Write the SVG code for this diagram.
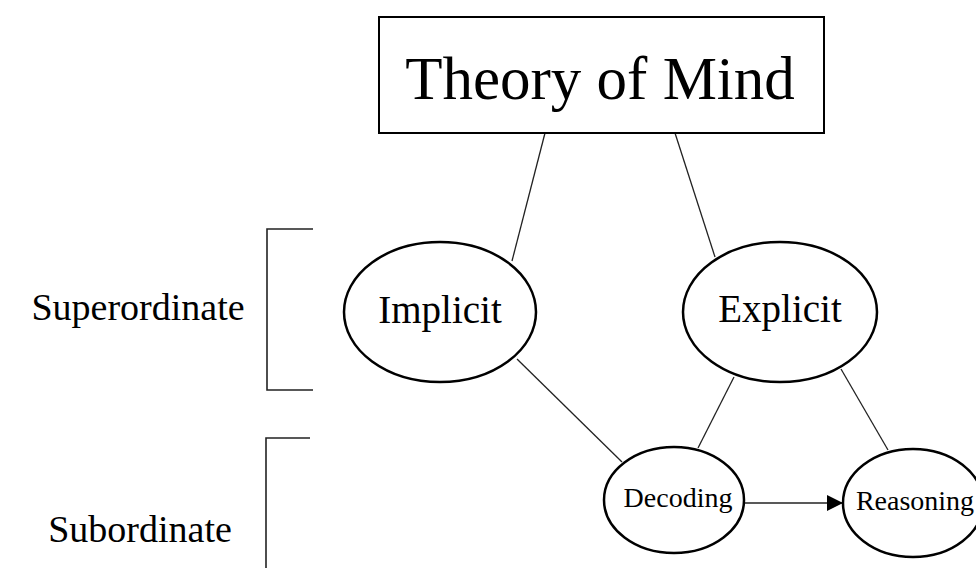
<svg xmlns="http://www.w3.org/2000/svg" width="976" height="568" viewBox="0 0 976 568">
  <style>
    text { font-family: "Liberation Serif", "Times New Roman", serif; fill: #000; }
    .node { fill: #fff; stroke: #000; stroke-width: 2.5; }
    .box { fill: #fff; stroke: #000; stroke-width: 2; }
    .link { stroke: #222; stroke-width: 1.3; fill: none; }
    .bracket { stroke: #222; stroke-width: 1.6; fill: none; }
  </style>
  <defs>
    <marker id="arrow" viewBox="0 0 10 10" refX="10" refY="5" markerWidth="16" markerHeight="16" markerUnits="userSpaceOnUse" orient="auto">
      <path d="M0,0 L10,5 L0,10 z" fill="#000"/>
    </marker>
  </defs>

  <!-- level labels with brackets -->
  <g id="level-superordinate">
    <path class="bracket" d="M313,229 H267 V390 H313"/>
    <text x="138" y="320" font-size="38" text-anchor="middle">Superordinate</text>
  </g>
  <g id="level-subordinate">
    <path class="bracket" d="M310,438 H266 V568"/>
    <text x="140" y="542" font-size="38" text-anchor="middle">Subordinate</text>
  </g>

  <!-- connectors -->
  <g id="connectors">
    <line class="link" x1="545" y1="133" x2="512" y2="261"/>
    <line class="link" x1="675" y1="133" x2="715" y2="257"/>
    <line class="link" x1="517" y1="359" x2="622" y2="462"/>
    <line class="link" x1="734" y1="377" x2="698" y2="448"/>
    <line class="link" x1="841" y1="369" x2="888" y2="450"/>
    <line class="link" x1="744" y1="503" x2="843" y2="503" marker-end="url(#arrow)"/>
  </g>

  <g id="theory-of-mind">
    <rect class="box" x="379" y="17" width="445" height="116"/>
    <text x="600" y="99" font-size="61" text-anchor="middle">Theory of Mind</text>
  </g>

  <g id="implicit">
    <ellipse class="node" cx="440" cy="312" rx="96" ry="70"/>
    <text x="440" y="323" font-size="39" text-anchor="middle">Implicit</text>
  </g>

  <g id="explicit">
    <ellipse class="node" cx="780" cy="312" rx="97" ry="70"/>
    <text x="780" y="322" font-size="39" text-anchor="middle">Explicit</text>
  </g>

  <g id="decoding">
    <ellipse class="node" cx="674" cy="500" rx="70" ry="53"/>
    <text x="678" y="507" font-size="28" text-anchor="middle">Decoding</text>
  </g>

  <g id="reasoning">
    <ellipse class="node" cx="913" cy="503" rx="70" ry="54"/>
    <text x="915" y="510" font-size="28" text-anchor="middle">Reasoning</text>
  </g>
</svg>
